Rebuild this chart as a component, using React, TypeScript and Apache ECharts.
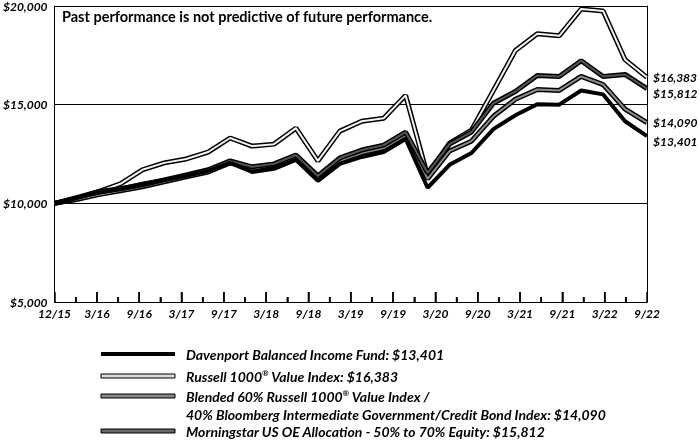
import React, { useEffect, useRef } from "react";
import * as echarts from "echarts";

const quarters = ["12/15","3/16","6/16","9/16","12/16","3/17","6/17","9/17","12/17","3/18","6/18","9/18","12/18","3/19","6/19","9/19","12/19","3/20","6/20","9/20","12/20","3/21","6/21","9/21","12/21","3/22","6/22","9/22"];

const fund = [10000,10290,10540,10740,10990,11190,11390,11650,12050,11590,11750,12200,11140,12000,12350,12600,13260,10790,11950,12550,13760,14460,15020,15000,15720,15520,14160,13401];
const russell = [10000,10240,10590,10990,11700,12050,12250,12600,13310,12900,13000,13810,12150,13660,14160,14310,15470,11390,13050,13710,15720,17740,18590,18490,19850,19750,17280,16383];
const blended = [10000,10190,10440,10640,10840,11090,11340,11590,12050,11750,11950,12350,11240,12150,12550,12800,13460,11240,12650,13150,14410,15270,15770,15720,16430,16020,14770,14090];
const morning = [10000,10290,10590,10740,10940,11190,11440,11700,12150,11850,12000,12450,11390,12300,12700,12950,13610,11540,13000,13610,15070,15670,16480,16430,17230,16430,16530,15812];

const tickLabels = ["12/15","3/16","9/16","3/17","9/17","3/18","9/18","3/19","9/19","3/20","9/20","3/21","9/21","3/22","9/22"];
const endLabels = ["$13,401", "$16,383", "$14,090", "$15,812"];

// tick slots on the label axis (position, anchor inside y range, long-tick flag)
const tickSlots = Array.from({ length: tickLabels.length * 2 - 3 }, (_, i) => [i + 1, 10000, (i + 1) % 2 === 0 ? 1 : 0]);

const FONT = "Lato, 'Open Sans', sans-serif";

const labelStyle = {
  fontFamily: FONT,
  fontStyle: "italic",
  fontWeight: "bold",
  fontSize: 12,
  color: "#000",
};

function doubleLine(name: string, data: number[], inner: string, label: string, dy: number) {
  return [
    {
      name: name + "-outer",
      type: "line",
      xAxisIndex: 0,
      data,
      symbol: "none",
      silent: true,
      lineStyle: { color: "#000", width: 5 },
    },
    {
      name,
      type: "line",
      xAxisIndex: 0,
      data,
      symbol: "none",
      silent: true,
      lineStyle: { color: inner, width: 2 },
      endLabel: {
        show: true,
        formatter: label,
        distance: 6,
        offset: [0, dy],
        ...labelStyle,
      },
    },
  ];
}

export default function App() {
  const ref = useRef<HTMLDivElement>(null);
  useEffect(() => {
    if (!ref.current) return;
    const chart = echarts.init(ref.current, undefined, { renderer: "svg" });
    const legendX = 101;
    const textX = 186;
    const legendRows = [
      { y: 354, fill: "#000", stroke: null },
      { y: 376, fill: "#dcdcdc", stroke: "#000" },
      { y: 396, fill: "#888", stroke: "#000" },
      { y: 431, fill: "#666", stroke: "#000" },
    ];
    const LFS = 14;
    const textStyle = {
      fontFamily: FONT,
      fontStyle: "italic",
      fontWeight: "bold",
      fontSize: LFS,
      fill: "#000",
      verticalAlign: "middle",
    };
    const sup = {
      fontFamily: FONT,
      fontStyle: "italic",
      fontWeight: "bold",
      fontSize: 8,
      fill: "#000",
      verticalAlign: "top",
      padding: [0, 0, 7, 0],
    };
    const base = { fontFamily: FONT, fontStyle: "italic", fontWeight: "bold", fontSize: LFS, fill: "#000" };
    const graphic: any[] = [
      {
        type: "text",
        x: 62,
        y: 16,
        style: {
          text: "Past performance is not predictive of future performance.",
          fontFamily: FONT,
          fontWeight: "bold",
          fontSize: 14.5,
          fill: "#000",
          verticalAlign: "middle",
        },
      },
    ];
    legendRows.forEach((r) => {
      graphic.push({
        type: "rect",
        shape: { x: legendX, y: r.y - 2, width: 74, height: 4 },
        style: r.stroke ? { fill: r.fill, stroke: r.stroke, lineWidth: 1 } : { fill: r.fill },
      });
    });
    graphic.push(
      { type: "text", x: textX, y: 354, style: { ...textStyle, text: "Davenport Balanced Income Fund: $13,401" } },
      {
        type: "text",
        x: textX,
        y: 376,
        style: {
          text: "{a|Russell 1000}{s|®}{a| Value Index: $16,383}",
          verticalAlign: "middle",
          rich: { a: base, s: sup },
        },
      },
      {
        type: "text",
        x: textX,
        y: 396,
        style: {
          text: "{a|Blended 60% Russell 1000}{s|®}{a| Value Index /}",
          verticalAlign: "middle",
          rich: { a: base, s: sup },
        },
      },
      { type: "text", x: textX, y: 414, style: { ...textStyle, text: "40% Bloomberg Intermediate Government/Credit Bond Index: $14,090" } },
      { type: "text", x: textX, y: 431, style: { ...textStyle, text: "Morningstar US OE Allocation - 50% to 70% Equity: $15,812" } }
    );

    chart.setOption({
      animation: false,
      grid: { left: 54, right: 53, top: 4, bottom: 138 },
      xAxis: [
        {
          type: "category",
          data: quarters,
          boundaryGap: false,
          show: false,
        },
        {
          type: "value",
          min: 0,
          max: 28,
          interval: 2,
          position: "bottom",
          axisLine: { show: true, lineStyle: { color: "#000", width: 1 } },
          axisTick: { show: true, inside: true, length: 10, lineStyle: { color: "#000", width: 1.5 } },
          minorTick: { show: true, splitNumber: 2, length: 5, lineStyle: { color: "#000", width: 1.5 } },
          splitLine: { show: false },
          minorSplitLine: { show: false },
          axisLabel: {
            ...labelStyle,
            margin: 5,
            showMinLabel: true,
            showMaxLabel: true,
            formatter: (v: number) => tickLabels[Math.round(v / 2)] ?? "",
          },
        },
      ],
      yAxis: [
        {
          type: "value",
          min: 5000,
          max: 20000,
          interval: 5000,
          axisLine: { show: true, lineStyle: { color: "#000", width: 1 } },
          axisTick: { show: false },
          splitLine: { show: true, lineStyle: { color: "#000", width: 1 } },
          axisLabel: {
            ...labelStyle,
            margin: 7,
            formatter: (v: number) => "$" + v.toLocaleString("en-US"),
          },
        },
        {
          type: "value",
          position: "right",
          min: 5000,
          max: 20000,
          interval: 5000,
          axisLine: { show: true, lineStyle: { color: "#000", width: 1 } },
          axisTick: { show: false },
          axisLabel: { show: false },
          splitLine: { show: false },
        },
      ],
      series: [
        {
          name: "ticks",
          type: "custom",
          xAxisIndex: 1,
          yAxisIndex: 0,
          silent: true,
          clip: false,
          z: 5,
          encode: { x: 0, y: 1 },
          data: tickSlots,
          renderItem: (params: any, api: any) => {
            const p = api.coord([api.value(0), 5000]);
            const len = api.value(2) ? 10 : 5;
            return {
              type: "line",
              shape: { x1: p[0], y1: p[1], x2: p[0], y2: p[1] - len },
              style: { stroke: "#000", lineWidth: 1.5 },
            };
          },
        },
        ...doubleLine("Russell 1000® Value Index", russell, "#f4f4f4", endLabels[1], 0),
        ...doubleLine("Blended 60/40", blended, "#8c8c8c", endLabels[2], 0),
        ...doubleLine("Morningstar US OE Allocation", morning, "#555", endLabels[3], 5),
        {
          name: "Davenport Balanced Income Fund",
          type: "line",
          xAxisIndex: 0,
          data: fund,
          symbol: "none",
          silent: true,
          lineStyle: { color: "#000", width: 4 },
          endLabel: { show: true, formatter: endLabels[0], distance: 6, offset: [0, 5], ...labelStyle },
        },
      ],
      graphic,
    });
    return () => chart.dispose();
  }, []);
  return <div ref={ref} style={{ position: "fixed", left: 0, top: 0, width: 700, height: 440 }} />;
}
